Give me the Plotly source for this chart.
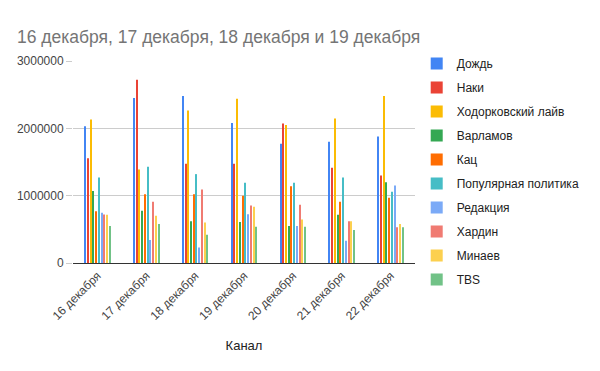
import plotly.graph_objects as go

categories = ["16 декабря", "17 декабря", "18 декабря", "19 декабря", "20 декабря", "21 декабря", "22 декабря"]

series_names = ["Дождь", "Наки", "Ходорковский лайв", "Варламов", "Кац",
                "Популярная политика", "Редакция", "Хардин", "Минаев", "TBS"]

dozhd = [2030000, 2450000, 2480000, 2080000, 1770000, 1800000, 1880000]
naki = [1556000, 2720000, 1475000, 1475000, 2070000, 1415000, 1300000]
khodorkovsky = [2130000, 1390000, 2265000, 2440000, 2050000, 2145000, 2480000]
varlamov = [1070000, 775000, 620000, 610000, 550000, 715000, 1200000]
kats = [770000, 1020000, 1020000, 1000000, 1140000, 910000, 970000]
popular_politics = [1270000, 1430000, 1320000, 1190000, 1190000, 1270000, 1060000]
redaktsiya = [745000, 340000, 230000, 725000, 550000, 330000, 1150000]
khardin = [720000, 910000, 1090000, 855000, 865000, 620000, 530000]
minaev = [715000, 700000, 600000, 835000, 645000, 620000, 580000]
tbs = [550000, 580000, 420000, 540000, 540000, 490000, 530000]

values = [dozhd, naki, khodorkovsky, varlamov, kats, popular_politics,
          redaktsiya, khardin, minaev, tbs]

colors = ["#4285F4", "#EA4335", "#FBBC04", "#34A853", "#FF6D01",
          "#46BDC6", "#7BAAF7", "#F07B72", "#FCD04F", "#71C287"]

FONT = "Liberation Sans, Arial, sans-serif"

fig = go.Figure()
for name, vals, col in zip(series_names, values, colors):
    fig.add_trace(go.Bar(x=categories, y=vals, name=name, marker_color=col,
                         marker_line_width=0, legendgroup=name))

fig.update_layout(
    width=600, height=371,
    paper_bgcolor="white", plot_bgcolor="white",
    barmode="group", bargap=0.44, bargroupgap=0.62,
    margin=dict(l=73, r=185, t=61, b=108, autoexpand=False),
    title=dict(text="16 декабря, 17 декабря, 18 декабря и 19 декабря",
               x=17 / 600, xanchor="left", y=1 - 37 / 371, yanchor="middle",
               font=dict(family=FONT, size=17.5, color="#757575")),
    font=dict(family=FONT, size=12, color="#444444"),
    xaxis=dict(title=dict(text="Канал", font=dict(size=13, color="#222222"), standoff=18),
               tickangle=-45, showline=True, linecolor="#333333", linewidth=1,
               tickfont=dict(size=12, color="#444444"), ticks=""),
    yaxis=dict(range=[0, 3000000], tickvals=[0, 1000000, 2000000, 3000000],
               ticktext=["0", "1000000", "2000000", "3000000"],
               showgrid=True, gridcolor="#cccccc", gridwidth=1, zeroline=False,
               ticks="outside", ticklen=6, tickcolor="#cccccc",
               tickfont=dict(size=12, color="#444444")),
    legend=dict(x=1.005, xanchor="left", y=1.06, yanchor="top",
                font=dict(size=12, color="#222222"), tracegroupgap=5,
                itemwidth=30, bgcolor="rgba(0,0,0,0)", maxheight=330),
)

fig.write_html("out.html", config={"displayModeBar": False},
               post_script="document.body.style.margin='0';")
